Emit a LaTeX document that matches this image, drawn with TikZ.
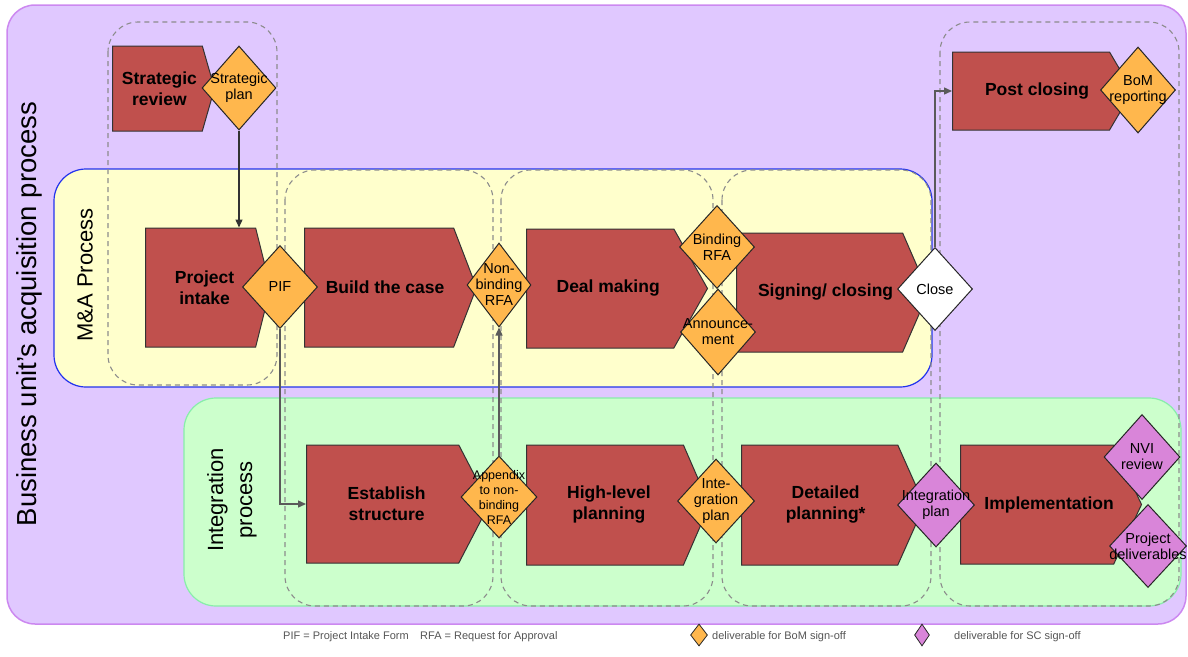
\documentclass[tikz,border=0pt]{standalone}
\usepackage{fontspec}
\setmainfont{Liberation Sans}
\usetikzlibrary{shapes.geometric,shapes.symbols,arrows.meta,calc}
\definecolor{bgpurple}{HTML}{E0C8FF}
\definecolor{bgpurpleline}{HTML}{CC88F0}
\definecolor{mayellow}{HTML}{FFFFCC}
\definecolor{mablue}{HTML}{2233EE}
\definecolor{intgreen}{HTML}{CCFFCC}
\definecolor{intgreenline}{HTML}{88EEAA}
\definecolor{procred}{HTML}{C0504D}
\definecolor{bomorange}{HTML}{FFB74D}
\definecolor{scpurple}{HTML}{D985D9}
\definecolor{dashgray}{HTML}{8C8C8C}
\definecolor{arrowgray}{HTML}{5A5A5A}
\definecolor{legendgray}{HTML}{555555}
\begin{document}
\begin{tikzpicture}[x=1pt,y=-1pt,
  proc/.style={signal, signal to=east, draw=black!80, line width=1pt, fill=procred, inner sep=0pt, anchor=west},
  ptext/.style={font=\fontsize{17.5}{21}\selectfont\bfseries, align=center, text=black, inner sep=0pt},
  dmd/.style={diamond, draw=black!85, line width=1pt, inner sep=0pt},
  dtext/.style={font=\fontsize{14.5}{16}\selectfont, align=center, inner sep=0pt},
  bom/.style={dmd, fill=bomorange},
  scd/.style={dmd, fill=scpurple},
  col/.style={draw=dashgray, dash pattern=on 5pt off 4pt, line width=1.1pt, rounded corners=30pt},
  flow/.style={draw=arrowgray, line width=1.4pt, -{Triangle[length=8pt,width=7pt]}},
  lg/.style={font=\fontsize{11}{13}\selectfont, text=legendgray, inner sep=0pt, anchor=west},
  ttl/.style={rotate=90, align=center}
]
\useasboundingbox (0,0) rectangle (1188,656);
% lanes
\draw[fill=bgpurple, draw=bgpurpleline, line width=1.5pt, rounded corners=28pt] (7,5) rectangle (1186,624);
\draw[fill=mayellow, draw=mablue, line width=1.2pt, rounded corners=32pt] (54,169) rectangle (932,387);
\draw[fill=intgreen, draw=intgreenline, line width=1.2pt, rounded corners=32pt] (184,398) rectangle (1181,606);
% phase columns
\draw[col] (108,22) rectangle (277,385);
\draw[col] (285,170) rectangle (493,606);
\draw[col] (501,170) rectangle (713,606);
\draw[col] (722,170) rectangle (931,606);
\draw[col] (940,22) rectangle (1179,606);
% titles
\node[ttl, font=\fontsize{27.5}{30}\selectfont] (t1) at (29,314) {Business unit's acquisition process};
\node[ttl, font=\fontsize{22}{24}\selectfont] (t2) at (85,275) {M\&A Process};
\node[ttl, font=\fontsize{22}{29}\selectfont] (t3) at (232,500) {Integration\\process};
% process steps
\node[proc, minimum width=102pt, minimum height=85pt, signal pointer angle=148, label={[ptext,xshift=2pt]center:{Strategic\\review}}] (sr) at (112,88.5) {};
\node[proc, minimum width=125pt, minimum height=119pt, signal pointer angle=152, label={[ptext,xshift=4pt]center:{Project\\intake}}] (pi) at (145,287.5) {};
\node[proc, minimum width=172pt, minimum height=119pt, signal pointer angle=138, label={[ptext,xshift=6pt]center:{Build the case}}] (bc) at (304,287.5) {};
\node[proc, minimum width=181pt, minimum height=119pt, signal pointer angle=121, label={[ptext,xshift=8pt]center:{Deal making}}] (dm) at (526,288.5) {};
\node[proc, minimum width=192pt, minimum height=119pt, signal pointer angle=133, label={[ptext,xshift=6pt]center:{Signing/ closing}}] (scl) at (736,292.5) {};
\node[proc, minimum width=180pt, minimum height=78pt, signal pointer angle=119, label={[ptext,xshift=6pt]center:{Post closing}}] (pc) at (952,91) {};
\node[proc, minimum width=183pt, minimum height=118pt, signal pointer angle=125, label={[ptext,xshift=4pt]center:{Establish\\structure}}] (es) at (306,504) {};
\node[proc, minimum width=183pt, minimum height=120pt, signal pointer angle=133, label={[ptext,xshift=4pt]center:{High-level\\planning}}] (hl) at (526,505) {};
\node[proc, minimum width=183pt, minimum height=120pt, signal pointer angle=132, label={[ptext,xshift=6pt]center:{Detailed\\planning*}}] (dp) at (741,505) {};
\node[proc, minimum width=181pt, minimum height=119pt, signal pointer angle=130, label={[ptext,xshift=12pt]center:{Implementation}}] (im) at (960,504.5) {};
% deliverables
\node[bom, minimum width=74pt, minimum height=84pt, label={[dtext]center:{Strategic\\plan}}] (sp) at (239,88) {};
\node[bom, minimum width=75pt, minimum height=83pt, label={[dtext]center:{PIF}}] (pif) at (280,287) {};
\node[bom, minimum width=64pt, minimum height=84pt, label={[dtext]center:{Non-\\binding\\RFA}}] (nb) at (499,285) {};
\node[bom, minimum width=75pt, minimum height=83pt, label={[dtext]center:{Binding\\RFA}}] (br) at (717,247) {};
\node[bom, minimum width=75pt, minimum height=86pt, label={[dtext]center:{Announce-\\ment}}] (an) at (718,332) {};
\node[dmd, fill=white, minimum width=75pt, minimum height=83pt, label={[dtext]center:{Close}}] (close) at (935,289) {};
\node[bom, minimum width=75pt, minimum height=86pt, label={[dtext]center:{BoM\\reporting}}] (bom) at (1138,90) {};
\node[bom, minimum width=76pt, minimum height=82pt, label={[dtext, font=\fontsize{12.5}{15}\selectfont]center:{Appendix\\to non-\\binding\\RFA}}] (app) at (499,497) {};
\node[bom, minimum width=77pt, minimum height=84pt, label={[dtext]center:{Inte-\\gration\\plan}}] (ip) at (716,501) {};
\node[scd, minimum width=77pt, minimum height=84pt, label={[dtext]center:{Integration\\plan}}] (ipp) at (936,505) {};
\node[scd, minimum width=76pt, minimum height=85pt, label={[dtext]center:{NVI\\review}}] (nvi) at (1142,457) {};
\node[scd, minimum width=77pt, minimum height=83pt, label={[dtext]center:{Project\\deliverables}}] (pd) at (1148,546) {};
% connectors
\draw[flow, draw=black!80] (sp.south) -- (sp.south |- pi.north);
\draw[flow] (pif.south) |- (es.west);
\draw[flow] (app.north) -- (nb.south);
\draw[flow] (close.north) |- (pc.west);
% legend
\node[lg] (l1) at (283,637) {PIF = Project Intake Form};
\node[lg] (l2) at (420,637) {RFA = Request for Approval};
\node[bom, minimum width=17pt, minimum height=22pt, line width=0.8pt] (l3) at (699,635) {};
\node[lg] (l4) at (712,637) {deliverable for BoM sign-off};
\node[scd, minimum width=15pt, minimum height=22pt, line width=0.8pt] (l5) at (922,635) {};
\node[lg] (l6) at (954,637) {deliverable for SC sign-off};
\end{tikzpicture}
\end{document}
